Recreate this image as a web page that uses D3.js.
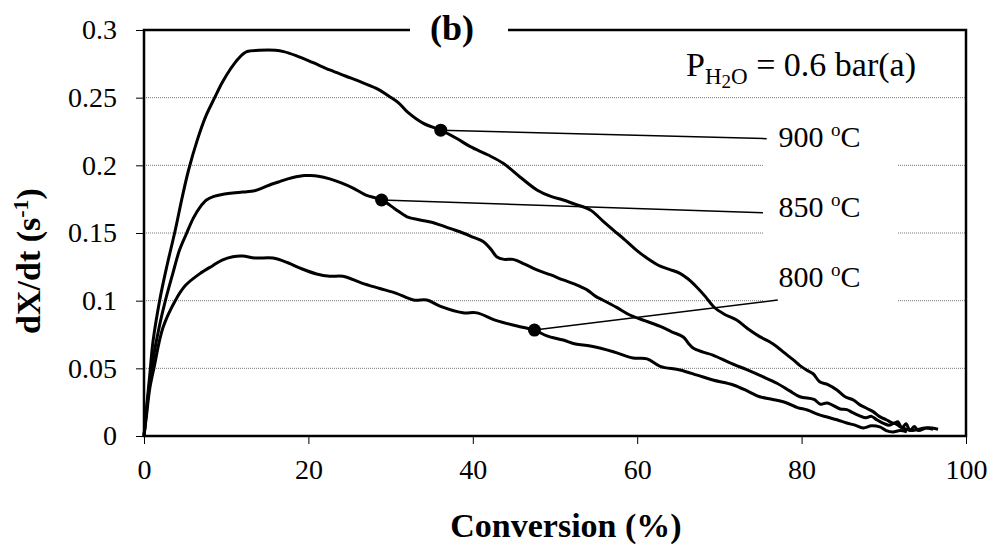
<!DOCTYPE html>
<html>
<head>
<meta charset="utf-8">
<script src="https://cdn.jsdelivr.net/npm/d3@7"></script>
<style>
  body { margin: 0; background: #fff; }
  svg { display: block; }
  text { font-family: "Liberation Serif", "Times New Roman", serif; fill: #000; }
</style>
</head>
<body>
<svg id="chart" width="993" height="546"></svg>
<script>
// ---- data ----
const series = ["900 oC", "850 oC", "800 oC"];
const x900 = [0,0.3,0.7,1.1,1.9,2.8,3.8,4.6,5.4,6.5,7.5,8.6,9.5,10.5,11.5,12.5,14,16,17,18.5,20.5,22.6,24.5,26.3,28.2,29.9,31,32,34,36.1,38,39.7,41.8,43.7,45.7,47.8,49.5,51,52.6,54.3,55.8,57.1,58.5,59.9,61.3,62.8,64,65.2,66.2,67.2,68.3,69.3,70.6,72.1,73.5,74.9,76,77,78,79,79.8,80.6,81.4,82.2,83.2,84.3,85.3,86.3,87.1,87.9,88.7,89.5,90.3,91.2,91.7,92.2,92.7,93.2,93.7,94.2,95.2,96.6];
const y900 = [0,0.02,0.045,0.07,0.1,0.126,0.152,0.175,0.196,0.219,0.236,0.25,0.261,0.271,0.279,0.284,0.285,0.285,0.284,0.281,0.276,0.2705,0.266,0.2618,0.257,0.2507,0.246,0.2397,0.231,0.226,0.22,0.2138,0.2078,0.2015,0.1916,0.1818,0.177,0.1744,0.171,0.167,0.159,0.1522,0.145,0.1374,0.131,0.1255,0.123,0.1202,0.116,0.1103,0.103,0.0955,0.09,0.0857,0.079,0.0734,0.07,0.066,0.061,0.0562,0.052,0.0488,0.046,0.0401,0.038,0.034,0.029,0.0266,0.023,0.0205,0.018,0.0143,0.012,0.0094,0.0105,0.006,0.009,0.004,0.007,0.004,0.006,0.005];
const x850 = [0,0.3,0.7,1.2,1.9,2.6,3.5,4.3,5.2,6.0,6.8,7.6,8.5,9.5,10.5,11.5,12.5,13.3,14.5,15.5,16.5,17.5,18.5,19.5,20.2,21.2,22.6,24,25.5,27,28.9,30.5,32,33.6,35,36,37.4,38.8,40,41.3,42.2,42.9,43.8,44.9,46.3,47.8,49.5,51,52.5,53.9,55,55.8,57.5,59.1,61,62.8,64.2,65.6,66.3,66.8,68,69.2,71.3,73.4,75.2,77,78.5,79.8,81.5,82.3,83.1,84.7,85.5,86.3,87.8,88.5,89.2,90.6,91.3,92,93.5,95,96];
const y850 = [0,0.018,0.04,0.06,0.082,0.1,0.12,0.137,0.15,0.161,0.169,0.1744,0.177,0.1785,0.1793,0.18,0.1805,0.181,0.1835,0.186,0.188,0.19,0.1915,0.1925,0.1925,0.192,0.19,0.187,0.183,0.178,0.1744,0.168,0.162,0.1596,0.158,0.156,0.153,0.15,0.147,0.1436,0.138,0.1325,0.1305,0.1305,0.127,0.1227,0.119,0.1153,0.112,0.108,0.103,0.1005,0.095,0.0894,0.085,0.081,0.077,0.0732,0.068,0.065,0.062,0.0598,0.054,0.0488,0.044,0.039,0.0335,0.029,0.027,0.0235,0.0244,0.02,0.0195,0.017,0.0135,0.0145,0.0118,0.008,0.0095,0.0067,0.004,0.006,0.005];
const x800 = [0,0.3,0.7,1.2,2.3,3.8,5,6.8,8.4,9.5,10.8,12,13.5,15.7,17.5,19,21,22.6,24.2,26.5,28.7,30.7,32.8,34.4,36,38.8,40.5,42.9,45.4,47.5,49,51,52.5,54.3,57.1,59.5,61.2,62.8,65.2,67.3,69.2,71.7,73.5,74.9,76.5,78.2,79.5,80.7,82,83.1,84.3,85.5,86.5,87.5,88.5,89.5,90.3,91.1,92,92.8];
const y800 = [0,0.015,0.035,0.05,0.08,0.1,0.111,0.12,0.126,0.13,0.1325,0.133,0.1315,0.1315,0.128,0.124,0.1197,0.118,0.118,0.113,0.109,0.1054,0.1005,0.1005,0.096,0.0911,0.091,0.0852,0.0813,0.0783,0.074,0.0709,0.068,0.0665,0.0623,0.0576,0.057,0.0515,0.0488,0.045,0.0414,0.0377,0.033,0.029,0.027,0.0244,0.021,0.0192,0.016,0.014,0.012,0.0096,0.008,0.006,0.0075,0.0067,0.004,0.003,0.004,0.003];

const markerX = [36.1, 28.9, 47.5];
const markerY = [0.226, 0.1744, 0.0783];
const connEndX = [75.75, 75.3, 77.1];
const connEndY = [0.2197, 0.165, 0.1005];
const labelX = [77.2, 77.2, 77.2];
const labelY = [0.2134, 0.1616, 0.1103];
const labelNum = ["900 ", "850 ", "800 "];

const xTicks = [0, 20, 40, 60, 80, 100];
const xTickLabels = ["0", "20", "40", "60", "80", "100"];
const yTicks = [0, 0.05, 0.1, 0.15, 0.2, 0.25, 0.3];
const yTickLabels = ["0", "0.05", "0.1", "0.15", "0.2", "0.25", "0.3"];

// ---- chart ----
const svg = d3.select("#chart");
const L = 144, R = 966, T = 30, B = 436;
const x = d3.scaleLinear().domain([0, 100]).range([L, R]);
const y = d3.scaleLinear().domain([0, 0.3]).range([B, T]);

// gridlines
svg.append("g").selectAll("line").data(yTicks.filter(v => v > 0 && v < 0.3)).join("line")
  .attr("x1", L).attr("x2", R).attr("y1", d => y(d)).attr("y2", d => y(d))
  .attr("stroke", "#777").attr("stroke-width", 1).attr("stroke-dasharray", "1,1");

// label white boxes
const boxTop = [0.245, 0.188, 0.137];
const boxBot = [0.197, 0.141, 0.092];
svg.append("g").selectAll("rect").data(boxTop).join("rect")
  .attr("x", 763).attr("width", 135)
  .attr("y", (d) => y(d)).attr("height", (d, i) => y(boxBot[i]) - y(d))
  .attr("fill", "#fff");

// axes
const yAxis = d3.axisLeft(y).tickValues(yTicks).tickSize(8).tickPadding(19)
  .tickFormat((d, i) => yTickLabels[i]);
const gy = svg.append("g").attr("transform", `translate(${L},0)`).call(yAxis);
gy.select(".domain").remove();
gy.selectAll(".tick line").attr("stroke", "#000").attr("stroke-width", 1);
gy.selectAll(".tick text").attr("font-size", 28);

const xAxis = d3.axisBottom(x).tickValues(xTicks).tickSize(8).tickPadding(15)
  .tickFormat((d, i) => xTickLabels[i]);
const gx = svg.append("g").attr("transform", `translate(0,${B})`).call(xAxis);
gx.select(".domain").remove();
gx.selectAll(".tick line").attr("stroke", "#000").attr("stroke-width", 1);
gx.selectAll(".tick text").attr("font-size", 28);

// curves
const line = d3.line().x(d => x(d[0])).y(d => y(d[1])).curve(d3.curveCatmullRom.alpha(0.5));
const data = [d3.zip(x900, y900), d3.zip(x850, y850), d3.zip(x800, y800)];
svg.append("g").selectAll("path").data(data).join("path")
  .attr("d", line).attr("fill", "none").attr("stroke", "#000")
  .attr("stroke-width", 3).attr("stroke-linejoin", "round");

// connectors
svg.append("g").selectAll("line").data(markerX).join("line")
  .attr("x1", d => x(d)).attr("y1", (d, i) => y(markerY[i]))
  .attr("x2", (d, i) => x(connEndX[i])).attr("y2", (d, i) => y(connEndY[i]))
  .attr("stroke", "#000").attr("stroke-width", 1.5);

// markers
svg.append("g").selectAll("circle").data(markerX).join("circle")
  .attr("cx", d => x(d)).attr("cy", (d, i) => y(markerY[i])).attr("r", 6.5).attr("fill", "#000");

// frame
svg.append("rect").attr("x", L).attr("y", T).attr("width", R - L).attr("height", B - T)
  .attr("fill", "none").attr("stroke", "#000").attr("stroke-width", 2.5);

// (b) title gap
svg.append("rect").attr("x", 410).attr("y", 18).attr("width", 98).attr("height", 24).attr("fill", "#fff");
svg.append("text").attr("x", 452).attr("y", 40).attr("text-anchor", "middle")
  .attr("font-size", 36).attr("font-weight", "bold").text("(b)");

// temperature labels
labelNum.forEach((n, i) => {
  const t = svg.append("text").attr("x", x(labelX[i])).attr("y", y(labelY[i])).attr("font-size", 30);
  t.append("tspan").text(n);
  t.append("tspan").attr("dy", -11).attr("font-size", 19).text("o");
  t.append("tspan").attr("dy", 11).attr("font-size", 30).text("C");
});

// P_H2O label
const p = svg.append("text").attr("x", 686).attr("y", 76).attr("font-size", 34);
p.append("tspan").text("P");
p.append("tspan").attr("dy", 8).attr("font-size", 23).text("H");
p.append("tspan").attr("dy", 4).attr("font-size", 19).text("2");
p.append("tspan").attr("dy", -4).attr("font-size", 23).text("O");
p.append("tspan").attr("dy", -8).attr("font-size", 34).text(" = 0.6 bar(a)");

// axis titles
svg.append("text").attr("x", 566).attr("y", 537).attr("text-anchor", "middle")
  .attr("font-size", 34).attr("font-weight", "bold").text("Conversion (%)");

const yl = svg.append("text").attr("transform", "translate(40,261) rotate(-90)")
  .attr("text-anchor", "middle").attr("font-size", 34).attr("font-weight", "bold");
yl.append("tspan").text("dX/dt (s");
yl.append("tspan").attr("dy", -12).attr("font-size", 22).text("-1");
yl.append("tspan").attr("dy", 12).attr("font-size", 34).text(")");
</script>
</body>
</html>
